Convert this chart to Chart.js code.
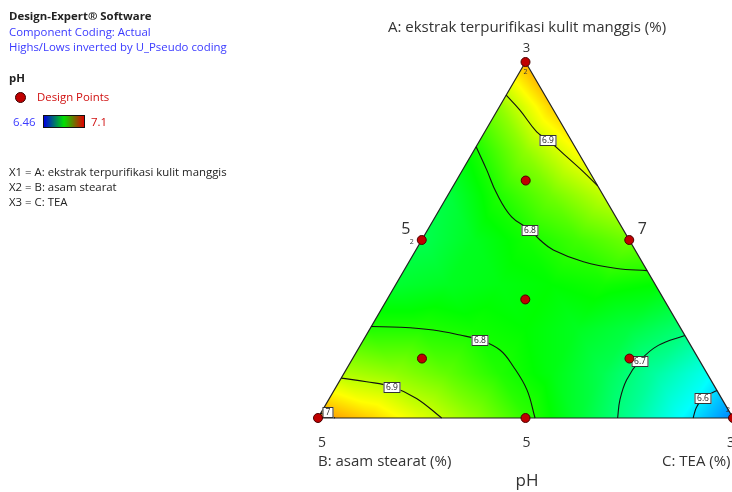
<!DOCTYPE html>
<html>
<head>
<meta charset="utf-8">
<title>pH</title>
<script src="https://cdn.jsdelivr.net/npm/chart.js@4.4.1/dist/chart.umd.min.js"></script>
<style>
    body { margin: 0; background: #fff; font-family: "Open Sans", sans-serif; }
    #wrap { position: relative; width: 732px; height: 492px; overflow: hidden; }
    #grafica { position: absolute; left: 0; top: 0; }
    .t { position: absolute; white-space: nowrap; color: #222; font-size: 11.4px; line-height: 15px; }
    .azul { color: #3a3aff; }
    .rojo { color: #d01010; }
    .eje { font-size: 15px; line-height: 18px; color: #333; }
</style>
</head>
<body>
<div id="wrap">
    <canvas id="grafica" width="732" height="492"></canvas>

    <div class="t" style="left:9px; top:8px; font-weight:bold;">Design-Expert® Software</div>
    <div class="t azul" style="left:9px; top:24px;">Component Coding: Actual</div>
    <div class="t azul" style="left:9px; top:39px;">Highs/Lows inverted by U_Pseudo coding</div>

    <div class="t" style="left:9px; top:70px; font-weight:bold;">pH</div>
    <div style="position:absolute; left:15px; top:92px; width:11px; height:11px; border-radius:50%; background:#c00000; border:1px solid #3a0000; box-sizing:border-box;"></div>
    <div class="t rojo" style="left:37px; top:89px;">Design Points</div>
    <div class="t azul" style="left:13px; top:114px;">6.46</div>
    <div style="position:absolute; left:43px; top:115px; width:40px; height:11px; border:1px solid #111; background:linear-gradient(to right, #0000e0, #00e000, #e00000);"></div>
    <div class="t rojo" style="left:91px; top:114px;">7.1</div>

    <div class="t" style="left:9px; top:164px;">X1 = A: ekstrak terpurifikasi kulit manggis</div>
    <div class="t" style="left:9px; top:179px;">X2 = B: asam stearat</div>
    <div class="t" style="left:9px; top:194px;">X3 = C: TEA</div>

    <div class="t eje" style="left:527px; top:17px; transform:translateX(-50%);">A: ekstrak terpurifikasi kulit manggis (%)</div>
    <div class="t eje" style="left:318px; top:451px;">B: asam stearat (%)</div>
    <div class="t eje" style="left:662px; top:451px;">C: TEA (%)</div>
    <div class="t" style="left:527px; top:470px; transform:translateX(-50%); font-size:17px; line-height:20px; color:#333;">pH</div>
</div>

<script>
// pH estimado en una malla ternaria: fila i -> A = i/8, columna j -> C = j/8, B = resto
const mallaN = 8;
const phMalla = [
    [7.01, 6.97, 6.92, 6.87, 6.81, 6.75, 6.69, 6.62, 6.54],
    [6.89, 6.87, 6.84, 6.80, 6.77, 6.73, 6.68, 6.63],
    [6.80, 6.80, 6.79, 6.78, 6.76, 6.74, 6.71],
    [6.75, 6.76, 6.77, 6.78, 6.79, 6.78],
    [6.73, 6.76, 6.79, 6.82, 6.85],
    [6.74, 6.80, 6.85, 6.90],
    [6.79, 6.87, 6.94],
    [6.87, 6.97],
    [6.99]
];
const phMin = 6.46;
const phMax = 7.1;

// puntos de diseno (fracciones pseudo A y C)
const puntosA = [1, 0.5, 0.5, 0, 0, 0, 0.333, 0.667, 0.167, 0.167];
const puntosC = [0, 0, 0.5, 0, 0.5, 1, 0.333, 0.167, 0.167, 0.667];
const puntosRep = [2, 2, 1, 1, 1, 2, 1, 1, 1, 1];

// curvas de nivel: [A, C]
const curva69Arriba = [[0.907, 0], [0.865, 0.054], [0.804, 0.125], [0.781, 0.164], [0.734, 0.232], [0.692, 0.293], [0.652, 0.348]];
const curva68Arriba = [[0.762, 0], [0.697, 0.058], [0.631, 0.115], [0.565, 0.184], [0.528, 0.247], [0.5, 0.285], [0.472, 0.331], [0.439, 0.42], [0.42, 0.51], [0.414, 0.586]];
const curva68Abajo = [[0.257, 0], [0.255, 0.07], [0.247, 0.154], [0.233, 0.226], [0.219, 0.281], [0.191, 0.343], [0.144, 0.399], [0.079, 0.464], [0, 0.523]];
const curva69Abajo = [[0.112, 0], [0.102, 0.066], [0.088, 0.134], [0.055, 0.21], [0, 0.298]];
const curva70 = [[0.013, 0], [0.007, 0.02], [0, 0.041]];
const curva67 = [[0.232, 0.768], [0.204, 0.718], [0.161, 0.695], [0.107, 0.69], [0.051, 0.702], [0, 0.722]];
const curva66 = [[0.077, 0.923], [0.057, 0.9], [0.03, 0.897], [0, 0.904]];

const etiquetasCurva = ['6.9', '6.8', '6.8', '6.9', '7', '6.7', '6.6'];
const etiquetasA = [0.781, 0.528, 0.219, 0.088, 0.016, 0.161, 0.057];
const etiquetasC = [0.164, 0.247, 0.281, 0.134, 0.015, 0.695, 0.9];

// marcas de los ejes: vertices A, B, C y mitades de lado AB, AC, BC
const marcasVertice = ['3', '5', '3'];
const marcasLado = ['5', '7', '5'];

const aXY = (a, c) => ({ x: c + a / 2, y: a });

function colorPH(v) {
    let t = (v - phMin) / (phMax - phMin);
    t = Math.max(0, Math.min(1, t));
    if (t < 0.25) return [0, 255 * t / 0.25, 255];
    if (t < 0.5) return [0, 255, 255 * (1 - (t - 0.25) / 0.25)];
    if (t < 0.75) return [255 * (t - 0.5) / 0.25, 255, 0];
    return [255, 255 * (1 - (t - 0.75) / 0.25), 0];
}

function valorMalla(a, c) {
    const N = mallaN;
    const u = a * N, v = c * N;
    let i = Math.min(Math.floor(u), N - 1);
    let j = Math.max(0, Math.min(Math.floor(v), N - 1 - i));
    const fu = u - i, fv = v - j;
    const V = (r, k) => phMalla[r][k];
    if (fu + fv <= 1 || i + j > N - 2) {
        return V(i, j) * (1 - fu - fv) + V(i + 1, j) * fu + V(i, j + 1) * fv;
    }
    return V(i + 1, j) * (1 - fv) + V(i, j + 1) * (1 - fu) + V(i + 1, j + 1) * (fu + fv - 1);
}

const pluginSuperficie = {
    id: 'superficie',
    beforeDatasetsDraw(chart) {
        const sx = chart.scales.x, sy = chart.scales.y, ctx = chart.ctx;
        const x0 = Math.floor(sx.getPixelForValue(0));
        const x1 = Math.min(chart.width, Math.ceil(sx.getPixelForValue(1)));
        const y0 = Math.floor(sy.getPixelForValue(1));
        const y1 = Math.ceil(sy.getPixelForValue(0));
        const w = x1 - x0, h = y1 - y0;
        const img = ctx.createImageData(w, h);
        for (let py = 0; py < h; py++) {
            const a = sy.getValueForPixel(y0 + py + 0.5);
            for (let px = 0; px < w; px++) {
                const xv = sx.getValueForPixel(x0 + px + 0.5);
                const c = xv - a / 2, b = 1 - a - c;
                if (a < 0 || b < 0 || c < 0) continue;
                const col = colorPH(valorMalla(a, c));
                const k = (py * w + px) * 4;
                img.data[k] = col[0];
                img.data[k + 1] = col[1];
                img.data[k + 2] = col[2];
                img.data[k + 3] = 255;
            }
        }
        const off = document.createElement('canvas');
        off.width = w; off.height = h;
        off.getContext('2d').putImageData(img, 0, 0);
        ctx.drawImage(off, x0, y0);
    },
    beforeDatasetDraw(chart, args) {
        if (args.index !== 0) return;
        const sx = chart.scales.x, sy = chart.scales.y, ctx = chart.ctx;
        ctx.save();
        ctx.font = '8.5px "Open Sans", sans-serif';
        ctx.textAlign = 'center';
        ctx.textBaseline = 'middle';
        etiquetasCurva.forEach((txt, i) => {
            const p = aXY(etiquetasA[i], etiquetasC[i]);
            const px = Math.round(sx.getPixelForValue(p.x)), py = Math.round(sy.getPixelForValue(p.y));
            const w = Math.max(11, ctx.measureText(txt).width + 5);
            ctx.fillStyle = '#fff';
            ctx.fillRect(px - w / 2, py - 5, w, 11);
            ctx.strokeStyle = '#333';
            ctx.lineWidth = 1;
            ctx.strokeRect(px - w / 2 + 0.5, py - 4.5, w - 1, 10);
            ctx.fillStyle = '#222';
            ctx.fillText(txt, px, py + 0.5);
        });
        ctx.restore();
    },
    afterDatasetsDraw(chart) {
        const sx = chart.scales.x, sy = chart.scales.y, ctx = chart.ctx;
        ctx.save();
        ctx.fillStyle = '#333';
        ctx.textBaseline = 'alphabetic';
        ctx.textAlign = 'center';
        // replicas
        ctx.font = '7px "Open Sans", sans-serif';
        const desp = { 0: [0, 12], 1: [-10, 4], 5: [-5, -6] };
        puntosRep.forEach((r, i) => {
            if (r < 2) return;
            const p = aXY(puntosA[i], puntosC[i]);
            const d = desp[i] || [0, 10];
            ctx.fillText(String(r), sx.getPixelForValue(p.x) + d[0], sy.getPixelForValue(p.y) + d[1]);
        });
        // marcas de los vertices y lados
        const vert = [aXY(1, 0), aXY(0, 0), aXY(0, 1)];
        const lado = [aXY(0.5, 0), aXY(0.5, 0.5), aXY(0, 0.5)];
        const P = p => [sx.getPixelForValue(p.x), sy.getPixelForValue(p.y)];
        let q = P(vert[0]);
        ctx.font = '13px "Open Sans", sans-serif';
        ctx.fillText(marcasVertice[0], q[0] + 1, q[1] - 10);
        ctx.font = '14px "Open Sans", sans-serif';
        q = P(vert[1]);
        ctx.fillText(marcasVertice[1], q[0] + 4, q[1] + 29);
        q = P(vert[2]);
        ctx.fillText(marcasVertice[2], q[0] - 2, q[1] + 29);
        q = P(lado[2]);
        ctx.fillText(marcasLado[2], q[0] + 1, q[1] + 29);
        ctx.font = '16px "Open Sans", sans-serif';
        q = P(lado[0]);
        ctx.fillText(marcasLado[0], q[0] - 16, q[1] - 6);
        q = P(lado[1]);
        ctx.fillText(marcasLado[1], q[0] + 13, q[1] - 6);
        ctx.restore();
    }
};

const curvas = [curva69Arriba, curva68Arriba, curva68Abajo, curva69Abajo, curva70, curva67, curva66];

const datasets = [{
    label: 'Design Points',
    data: puntosA.map((a, i) => aXY(a, puntosC[i])),
    pointRadius: 4.5,
    pointBackgroundColor: '#c00000',
    pointBorderColor: '#4a0000',
    pointBorderWidth: 1,
    showLine: false,
    clip: false,
    order: 0
}];

curvas.forEach(c => {
    datasets.push({
        data: c.map(p => aXY(p[0], p[1])),
        showLine: true,
        borderColor: '#111',
        borderWidth: 1.1,
        pointRadius: 0,
        tension: 0.4,
        clip: false,
        order: 1
    });
});

datasets.push({
    data: [aXY(1, 0), aXY(0, 0), aXY(0, 1), aXY(1, 0)],
    showLine: true,
    borderColor: '#222',
    borderWidth: 1.2,
    pointRadius: 0,
    tension: 0,
    clip: false,
    order: 1
});

new Chart(document.getElementById('grafica'), {
    type: 'scatter',
    data: { datasets },
    options: {
        responsive: false,
        animation: false,
        events: [],
        layout: { autoPadding: false, padding: { left: 318, top: 62, right: 0, bottom: 74 } },
        plugins: { legend: { display: false }, tooltip: { enabled: false } },
        scales: {
            x: { type: 'linear', display: false, min: 0, max: 414 / 415 },
            y: { type: 'linear', display: false, min: 0, max: 1 }
        }
    },
    plugins: [pluginSuperficie]
});
</script>
</body>
</html>
